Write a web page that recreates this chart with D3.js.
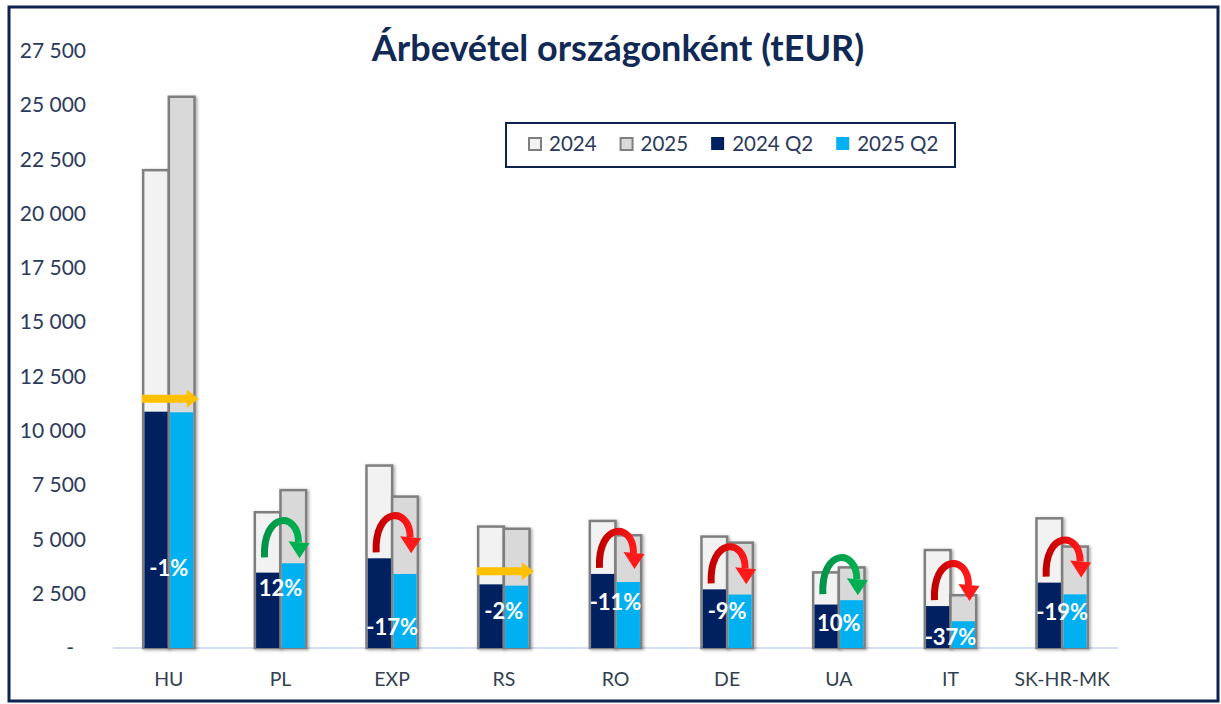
<!DOCTYPE html>
<html>
<head>
<meta charset="utf-8">
<script src="https://cdn.jsdelivr.net/npm/d3@7"></script>
<style>
  body { margin: 0; background: #fff; }
  text { font-family: Lato, "Open Sans", sans-serif; }
</style>
</head>
<body>
<div id="chart"></div>
<script>
"use strict"

/***********************************
 DATA (tEUR)
************************************/
let countries = ["HU", "PL", "EXP", "RS", "RO", "DE", "UA", "IT", "SK-HR-MK"];
let year2024 = [22000, 6250, 8400, 5590, 5850, 5130, 3480, 4510, 5970];
let year2025 = [25380, 7270, 6970, 5490, 5190, 4850, 3710, 2430, 4670];
let q2of2024 = [10880, 3470, 4130, 2930, 3410, 2700, 2000, 1930, 3010];
let q2of2025 = [10850, 3900, 3410, 2870, 3040, 2460, 2200, 1230, 2470];
let changeLabels = ["-1%", "12%", "-17%", "-2%", "-11%", "-9%", "10%", "-37%", "-19%"];
// level (tEUR) where each % label sits
let labelLevel = [3680, 2760, 970, 1700, 2120, 1700, 1150, 510, 1660];
let seriesNames = ["2024", "2025", "2024 Q2", "2025 Q2"];
let yTicks = d3.range(0, 27501, 2500);

/***********************************
 CONFIG
************************************/
let width = 1221;
let height = 704;
let plotLeft = 113, plotRight = 1118;
let plotTop = 50.7, plotBottom = 648;
let textColor = "#2b3a5c";
let navy = "#0f2350";
let colors = {
    "2024": "#f2f2f2",
    "2025": "#d9d9d9",
    "2024 Q2": "#002060",
    "2025 Q2": "#00b0f0"
};

let svg = d3.select("#chart")
    .append("svg")
    .attr("width", width)
    .attr("height", height);

let defs = svg.append("defs");
defs.append("filter")
    .attr("id", "shadow")
    .attr("x", "-20%").attr("y", "-5%")
    .attr("width", "150%").attr("height", "115%")
    .append("feDropShadow")
    .attr("dx", 1.5).attr("dy", 1)
    .attr("stdDeviation", 1.5)
    .attr("flood-color", "#000")
    .attr("flood-opacity", 0.35);

function gradient(id, from, to) {
    let g = defs.append("linearGradient").attr("id", id)
        .attr("x1", "0%").attr("x2", "100%").attr("y1", "0%").attr("y2", "0%");
    g.append("stop").attr("offset", "0%").attr("stop-color", from);
    g.append("stop").attr("offset", "100%").attr("stop-color", to);
}
gradient("upGrad", "#00934a", "#00b050");
gradient("downGrad", "#c00000", "#ff1a1a");

// outer frame
svg.append("rect")
    .attr("x", 9).attr("y", 7)
    .attr("width", 1209).attr("height", 694)
    .attr("fill", "#fff")
    .attr("stroke", navy)
    .attr("stroke-width", 3);

/***********************************
 SCALES
************************************/
let x0 = d3.scaleBand()
    .domain(countries)
    .range([plotLeft, plotRight])
    .paddingInner(0.54)
    .paddingOuter(0.27);

let x1 = d3.scaleBand()
    .domain(["2024", "2025"])
    .range([0, x0.bandwidth()]);

let y = d3.scaleLinear()
    .domain([0, 27500])
    .range([plotBottom, plotTop]);

/***********************************
 AXES
************************************/
let fmt = d3.formatLocale({ decimal: ",", thousands: " ", grouping: [3], currency: ["", ""] }).format(",d");

let yAxis = svg.append("g")
    .attr("transform", `translate(86,0)`)
    .call(d3.axisLeft(y).tickValues(yTicks).tickSize(0).tickPadding(0)
        .tickFormat(d => d === 0 ? "-" : fmt(d)));
yAxis.select(".domain").remove();
yAxis.selectAll("text")
    .attr("fill", textColor)
    .attr("font-size", 21)
    .attr("font-family", "Lato, sans-serif")
    .attr("dx", d => d === 0 ? -12 : 0);

// baseline
svg.append("line")
    .attr("x1", plotLeft).attr("x2", plotRight)
    .attr("y1", plotBottom).attr("y2", plotBottom)
    .attr("stroke", "#d0dff3")
    .attr("stroke-width", 2);

let xAxis = svg.append("g")
    .attr("transform", `translate(0,${plotBottom})`)
    .call(d3.axisBottom(x0).tickSize(0).tickPadding(24));
xAxis.select(".domain").remove();
xAxis.selectAll("text")
    .attr("fill", "#333f50")
    .attr("font-size", 19.5)
    .attr("font-family", "Lato, sans-serif");

/***********************************
 BARS
************************************/
let rows = countries.map((c, i) => ({
    country: c,
    y24: year2024[i], y25: year2025[i],
    q24: q2of2024[i], q25: q2of2025[i],
    label: changeLabels[i], level: labelLevel[i]
}));

let groups = svg.selectAll("g.country")
    .data(rows)
    .join("g")
    .attr("class", "country")
    .attr("transform", d => `translate(${x0(d.country)},0)`);

// annual bars
groups.selectAll("rect.annual")
    .data(d => [{ key: "2024", v: d.y24 }, { key: "2025", v: d.y25 }])
    .join("rect")
    .attr("class", "annual")
    .attr("x", d => x1(d.key))
    .attr("width", x1.bandwidth())
    .attr("y", d => y(d.v))
    .attr("height", d => y(0) - y(d.v))
    .attr("fill", d => colors[d.key])
    .attr("stroke", "#7f7f7f")
    .attr("stroke-width", 2.5)
    .attr("filter", "url(#shadow)");

// Q2 bars drawn inside the annual bars
groups.selectAll("rect.q2")
    .data(d => [{ key: "2024", s: "2024 Q2", v: d.q24 }, { key: "2025", s: "2025 Q2", v: d.q25 }])
    .join("rect")
    .attr("class", "q2")
    .attr("x", d => x1(d.key) + 1.25)
    .attr("width", x1.bandwidth() - 2.5)
    .attr("y", d => y(d.v))
    .attr("height", d => y(0) - y(d.v))
    .attr("fill", d => colors[d.s]);

/***********************************
 CHANGE ARROWS
************************************/
groups.each(function (d) {
    let g = d3.select(this);
    let cx = x0.bandwidth() / 2;
    let top = Math.min(y(d.q24), y(d.q25));
    let pct = parseInt(d.label, 10);

    if (Math.abs(pct) <= 2) {
        // flat: straight yellow arrow
        let ay = top - 13;
        g.append("line")
            .attr("x1", cx - 27).attr("x2", cx + 19)
            .attr("y1", ay).attr("y2", ay)
            .attr("stroke", "#ffc000")
            .attr("stroke-width", 8);
        g.append("path")
            .attr("d", `M${cx + 18},${ay - 9} L${cx + 30},${ay} L${cx + 18},${ay + 9} Z`)
            .attr("fill", "#ffc000");
    } else {
        let base = top - 6;
        let grad = pct > 0 ? "url(#upGrad)" : "url(#downGrad)";
        let headCol = pct > 0 ? "#00b050" : "#ff1a1a";
        g.append("path")
            .attr("d", `M${cx - 16},${base} C${cx - 18},${base - 46} ${cx + 18},${base - 46} ${cx + 18},${base - 15}`)
            .attr("fill", "none")
            .attr("stroke", grad)
            .attr("stroke-width", 7);
        g.append("path")
            .attr("d", `M${cx + 8},${base - 16} L${cx + 29},${base - 14} L${cx + 19},${base + 1} Z`)
            .attr("fill", headCol);
    }
});

// % labels
groups.append("text")
    .attr("x", x0.bandwidth() / 2)
    .attr("y", d => y(d.level))
    .attr("dy", "0.35em")
    .attr("text-anchor", "middle")
    .attr("fill", "#fff")
    .attr("font-weight", "bold")
    .attr("font-size", 22)
    .text(d => d.label);

/***********************************
 LEGEND
************************************/
let legend = svg.append("g");
legend.append("rect")
    .attr("x", 506).attr("y", 123)
    .attr("width", 449).attr("height", 44)
    .attr("fill", "#fff")
    .attr("stroke", navy)
    .attr("stroke-width", 2);

let lx = 528;
seriesNames.forEach(name => {
    let hollow = name.indexOf("Q2") < 0;
    legend.append("rect")
        .attr("x", hollow ? lx + 1 : lx)
        .attr("y", hollow ? 138 : 137)
        .attr("width", hollow ? 12 : 13)
        .attr("height", hollow ? 12 : 13)
        .attr("fill", colors[name])
        .attr("stroke", hollow ? "#7f7f7f" : "none")
        .attr("stroke-width", 2);
    let t = legend.append("text")
        .attr("x", lx + 21)
        .attr("y", 144)
        .attr("dy", "0.35em")
        .attr("fill", textColor)
        .attr("font-size", 20.5)
        .text(name);
    lx += 21 + t.node().getComputedTextLength() + 23;
});

/***********************************
 TITLE
************************************/
svg.append("text")
    .attr("x", 618)
    .attr("y", 61)
    .attr("text-anchor", "middle")
    .attr("font-weight", "bold")
    .attr("font-size", 36)
    .attr("fill", "#112a55")
    .text("Árbevétel országonként (tEUR)");
</script>
</body>
</html>
